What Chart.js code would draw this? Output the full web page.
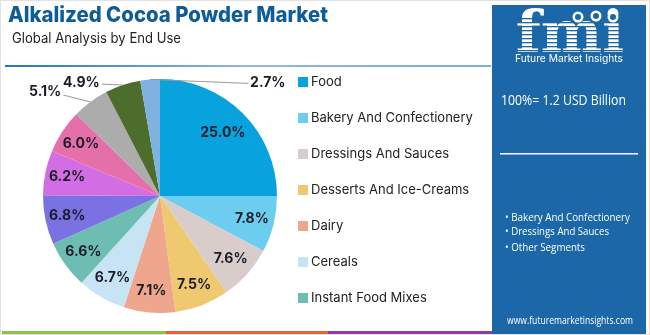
<!DOCTYPE html>
<html><head><meta charset="utf-8">
<script src="https://cdn.jsdelivr.net/npm/chart.js@4.4.1/dist/chart.umd.min.js"></script>
<style>html,body{margin:0;padding:0;background:#fff}#wrap{position:relative;width:650px;height:335px}</style>
</head><body><div id="wrap"><canvas id="c" width="650" height="335"></canvas></div>
<script>
const categories = ["Food","Bakery And Confectionery","Dressings And Sauces","Desserts And Ice-Creams","Dairy","Cereals","Instant Food Mixes","Beverages","Snacks","Nutrition Products","Pharmaceuticals","Cosmetics","Others"];
const shares = [25.0,7.8,7.6,7.5,7.1,6.7,6.6,6.8,6.2,6.0,5.1,4.9,2.7];
const sliceColors = ["#08a2dc","#6ccdf0","#d9cdcc","#efc96f","#eea68c","#c7e4f5","#6dbdb3","#7a72e2","#d26de4","#e46fa9","#acacac","#4c6d2b","#7fb2de"];
const legendCount = 7;
const titleText = "Alkalized Cocoa Powder Market";
const subtitleText = "Global Analysis by End Use";
const totalText = "100%= 1.2 USD Billion";
const panelBullets = ["Bakery And Confectionery","Dressings And Sauces","Other Segments"];
const siteText = "www.futuremarketinsights.com";

const PANEL = "#1b67a8";
const outside = {10:{lx:-27,ly:-7,align:"right",tx:-2,ty:-3},11:{lx:-21,ly:-1,align:"right",tx:-2,ty:-1},12:{lx:98,ly:4,align:"left",tx:2,ty:-1}};

function fit(c,t,x,y,w){const m=c.measureText(t).width; if(m>w) c.fillText(t,x,y,w); else c.fillText(t,x,y);}

const decor = {
  id:"decor",
  beforeDraw(chart){
    const c = chart.ctx;
    c.save();
    c.fillStyle="#fff";c.fillRect(0,0,650,335);
    c.strokeStyle="#e2e2e2";c.lineWidth=1;c.strokeRect(0.5,0.5,649,334);
    c.textBaseline="middle";c.textAlign="left";
    c.fillStyle="#0f5c9a";c.font="800 21px Inter";
    fit(c,titleText,8,16,320);
    c.fillStyle="#222";c.font="14px Inter";
    fit(c,subtitleText,12,39,169);
    const g=c.createLinearGradient(5,0,490,0);
    g.addColorStop(0,"#2a74ad");g.addColorStop(0.5,"#8fb9d9");g.addColorStop(1,"#7eaed3");
    c.fillStyle=g;c.fillRect(5,65,486,2);
    c.fillStyle="#8dc540";c.fillRect(2,331,164,3);
    c.fillStyle="#e4643a";c.fillRect(166,331,162,3);
    c.fillStyle="#8d3f98";c.fillRect(328,331,170,3);
    c.fillStyle=PANEL;c.fillRect(492,5,154,329);
    c.fillStyle="#fff";c.font="bold 58px 'DejaVu Serif'";c.textAlign="center";c.textBaseline="alphabetic";
    c.fillText("fmi",570,52,112);
    c.fillStyle=PANEL;
    for(let y=18;y<54;y+=4){c.fillRect(510,y,120,1.3);}
    c.fillStyle="#fff";
    [[578,17],[596,16],[613,17]].forEach(p=>{c.beginPath();c.arc(p[0],p[1],5.5,0,Math.PI*2);c.fill();});
    c.fillStyle=PANEL;
    [[578,17],[596,16],[613,17]].forEach(p=>{c.beginPath();c.arc(p[0],p[1],3,0,Math.PI*2);c.fill();});
    c.fillStyle="#fff";c.font="10.5px Inter";c.textBaseline="middle";
    c.fillText("Future Market Insights",569,59,108);
    c.textAlign="left";c.font="15px 'Open Sans'";
    fit(c,totalText,501,101,125);
    c.fillRect(500,153,138,1.5);
    c.font="11.5px 'Open Sans'";
    const by=[218,232,248];
    const bw=[125,104,80];
    panelBullets.forEach((t,i)=>fit(c,"\u2022 "+t,505,by[i],bw[i]));
    c.font="10.5px 'Open Sans'";
    fit(c,siteText,507,321,126);
    c.restore();
  },
  afterDatasetsDraw(chart){
    const c=chart.ctx;const meta=chart.getDatasetMeta(0);
    c.save();
    c.fillStyle="#1c1c2a";c.font="bold 14px Inter";c.textBaseline="middle";
    meta.data.forEach((arc,i)=>{
      const mid=(arc.startAngle+arc.endAngle)/2;
      const R=arc.outerRadius;
      const lbl=shares[i].toFixed(1)+"%";
      if(outside[i]){
        const o=outside[i];
        const px=arc.x+Math.cos(mid)*R, py=arc.y+Math.sin(mid)*R;
        const ex=px+o.lx, ey=py+o.ly;
        c.strokeStyle="#9a9a9a";c.lineWidth=1;
        c.beginPath();c.moveTo(px,py);c.lineTo(ex,ey);c.stroke();
        c.textAlign=o.align;c.fillText(lbl,ex+o.tx,ey+o.ty);
      } else {
        const f=i===0?0.76:0.81;
        c.textAlign="center";
        c.fillText(lbl,arc.x+Math.cos(mid)*R*f,arc.y+Math.sin(mid)*R*f);
      }
    });
    c.textAlign="left";c.font="13px Inter";
    for(let i=0;i<legendCount;i++){
      const y=82+i*36;
      c.fillStyle=sliceColors[i];c.fillRect(298,y-5,10,10);
      c.fillStyle="#222";c.fillText(categories[i],311,y);
    }
    c.restore();
  }
};

new Chart(document.getElementById("c"),{
  type:"pie",
  data:{labels:categories,datasets:[{data:shares,backgroundColor:sliceColors,borderWidth:0}]},
  options:{responsive:false,animation:false,
    layout:{padding:{left:43,right:373,top:79,bottom:22}},
    plugins:{legend:{display:false},tooltip:{enabled:false}}},
  plugins:[decor]
});
</script></body></html>
